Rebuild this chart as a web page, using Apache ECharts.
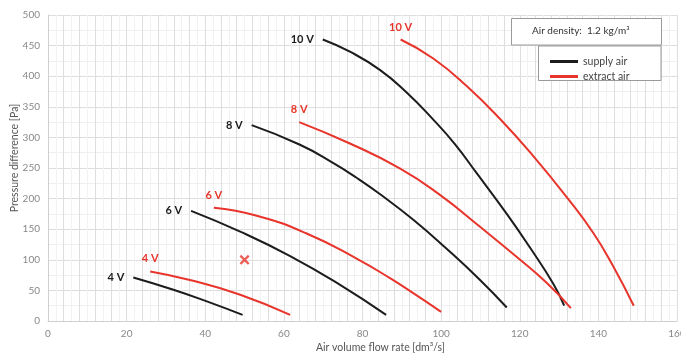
<!DOCTYPE html>
<html><head><meta charset="utf-8">
<script src="https://cdn.jsdelivr.net/npm/echarts@6/dist/echarts.min.js"></script>
<style>html,body{margin:0;padding:0;background:#fff}#c{width:681px;height:356px}</style>
</head><body><div id="c"></div>
<script>
var supply4 = [[21.7,71],[31.9,51],[40.4,32],[49.5,10]];
var supply6 = [[36.4,180],[48.9,146],[61.6,106],[74.3,59],[86,10]];
var supply8 = [[51.8,320],[64.1,288],[72.6,258],[78.5,234],[84.5,207],[93,165],[101.4,118],[109.9,67],[116.7,22]];
var supply10 = [[69.9,460],[76.8,440],[84.5,410],[91.3,373],[98,329],[103.5,289],[109,242],[116.7,175],[122.6,120],[128.6,60],[131.3,25]];
var extract4 = [[26,81],[36.1,67],[48.9,43],[61.6,10]];
var extract6 = [[42.2,185],[53.1,172],[65.8,143],[78.5,102],[87,70],[93,45],[100,15]];
var extract8 = [[63.9,325],[76.8,290],[89.6,249],[99.7,206],[109.9,154],[120.1,100],[126.9,62],[133,21]];
var extract10 = [[89.7,460],[98,429],[106.5,384],[115,330],[123.5,269],[132,202],[138.8,143],[143.8,89],[149,25]];
var voltLabels = ['4 V','6 V','8 V','10 V'];
var operatingPoint = [[50,100]];
var xTickStep = 20;

var BLACK = '#1c1c1c', RED = '#e8352c';
var FONT = 'Lato';

function curve(name, data, color, lbl, isRed) {
  return {
    name: name, type: 'line', data: data, showSymbol: false, smooth: 0.5,
    lineStyle: {color: color, width: 2}, itemStyle: {color: color},
    z: 5, animation: false,
    markPoint: {
      symbol: 'circle', symbolSize: 0, animation: false,
      data: [{coord: data[0]}],
      label: {show: true, formatter: lbl, position: isRed ? 'top' : 'left', distance: isRed ? 7 : 9,
              color: color, fontFamily: FONT, fontWeight: 'bold', fontSize: 11}
    }
  };
}

var chart = echarts.init(document.getElementById('c'));
chart.setOption({
  animation: false,
  grid: {left: 48, right: 4, top: 15, bottom: 35, containLabel: false, outerBoundsMode: 'none'},
  xAxis: {
    type: 'value', min: 0, max: 160, interval: 4,
    name: 'Air volume flow rate [dm³/s]', nameLocation: 'middle', nameGap: 21, nameMoveOverlap: false,
    nameTextStyle: {color: '#555', fontFamily: FONT, fontSize: 10.5, padding: [0,0,0,36]},
    axisLine: {lineStyle: {color: '#cfcfcf'}}, axisTick: {show: false},
    axisLabel: {color: '#888', fontFamily: FONT, fontSize: 10, margin: 8,
      formatter: function(v){ return v % xTickStep === 0 ? String(v) : ''; }},
    splitLine: {lineStyle: {color: '#dedede'}},
    minorTick: {show: false, splitNumber: 2},
    minorSplitLine: {show: true, lineStyle: {color: '#f2f2f2'}}
  },
  yAxis: {
    type: 'value', min: 0, max: 500, interval: 50,
    name: 'Pressure difference [Pa]', nameLocation: 'middle', nameGap: 28, nameMoveOverlap: false,
    nameTextStyle: {color: '#555', fontFamily: FONT, fontSize: 10.5, padding: [0,0,0,20]},
    axisLine: {show: true, lineStyle: {color: '#cfcfcf'}}, axisTick: {show: false},
    axisLabel: {color: '#888', fontFamily: FONT, fontSize: 10, margin: 8},
    splitLine: {lineStyle: {color: '#dedede'}},
    minorTick: {show: false, splitNumber: 2},
    minorSplitLine: {show: true, lineStyle: {color: '#f0f0f0'}}
  },
  legend: {
    data: ['supply air', 'extract air'], orient: 'vertical', left: 545, top: 51,
    itemWidth: 28, itemHeight: 3, itemGap: 4, icon: 'rect', z: 20,
    textStyle: {color: '#444', fontFamily: FONT, fontSize: 10.5},
    selectedMode: false
  },
  graphic: [
    {type: 'rect', z: 10, shape: {x: 511.5, y: 18.5, width: 150, height: 26.5},
     style: {fill: '#fff', stroke: '#9a9a9a', lineWidth: 1}},
    {type: 'text', z: 11, left: 532, top: 26,
     style: {text: 'Air density:  1.2 kg/m³', fill: '#333', font: '10px Lato'}},
    {type: 'rect', z: 10, shape: {x: 538.5, y: 46, width: 122.5, height: 34.5},
     style: {fill: '#fff', stroke: '#9a9a9a', lineWidth: 1}}
  ],
  series: [
    curve('supply air', supply4, BLACK, voltLabels[0], false),
    curve('supply air', supply6, BLACK, voltLabels[1], false),
    curve('supply air', supply8, BLACK, voltLabels[2], false),
    curve('supply air', supply10, BLACK, voltLabels[3], false),
    curve('extract air', extract4, RED, voltLabels[0], true),
    curve('extract air', extract6, RED, voltLabels[1], true),
    curve('extract air', extract8, RED, voltLabels[2], true),
    curve('extract air', extract10, RED, voltLabels[3], true),
    {type: 'scatter', data: operatingPoint, symbolSize: 10, z: 6,
     symbol: 'path://M2,0L6,4L10,0L12,2L8,6L12,10L10,12L6,8L2,12L0,10L4,6L0,2Z',
     itemStyle: {color: RED}}
  ]
});
</script></body></html>
